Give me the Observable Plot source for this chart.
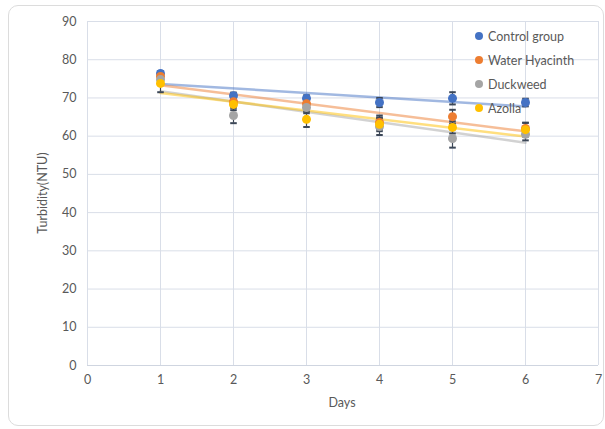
<!DOCTYPE html>
<html>
<head>
<meta charset="utf-8">
<script src="https://cdn.jsdelivr.net/npm/d3@7"></script>
<script src="https://cdn.jsdelivr.net/npm/@observablehq/plot@0.6"></script>
<style>
  html, body { margin: 0; padding: 0; background: #fff; }
  #wrap { position: relative; width: 605px; height: 429px; overflow: hidden; font-family: Lato, "Liberation Sans", sans-serif; color: #595959; }
  #card { position: absolute; left: 8px; top: 5px; width: 596px; height: 421px; border: 1px solid #dcdcdc; border-radius: 10px; box-sizing: border-box; }
  #chart { position: absolute; left: 0; top: 0; }
  .title { position: absolute; font-size: 12.5px; color: #595959; white-space: nowrap; }
  #ytitle { left: 42px; top: 193px; transform: translate(-50%, -50%) rotate(-90deg); }
  #xtitle { left: 342px; top: 402px; transform: translate(-50%, -50%); }
  #legend { position: absolute; left: 475px; top: 24px; }
  .li { display: flex; align-items: center; height: 24px; font-size: 12.5px; color: #595959; }
  .sw { width: 8px; height: 8px; border-radius: 50%; margin-right: 5px; }
</style>
</head>
<body>
<div id="wrap">
  <div id="card"></div>
  <div id="chart"></div>
  <div class="title" id="ytitle">Turbidity(NTU)</div>
  <div class="title" id="xtitle">Days</div>
  <div id="legend"></div>
</div>
<script>
const days = [1, 2, 3, 4, 5, 6];
const seriesNames = ["Control group", "Water Hyacinth", "Duckweed", "Azolla"];
const seriesColors = ["#4472c4", "#ed7d31", "#a5a5a5", "#ffc000"];

const controlValues   = [76.4, 70.6, 69.9, 68.8, 69.9, 68.8];
const hyacinthValues  = [75.6, 69.0, 68.5, 63.6, 65.1, 62.0];
const duckweedValues  = [74.8, 65.4, 67.5, 62.5, 59.4, 60.5];
const azollaValues    = [73.8, 68.3, 64.4, 63.1, 62.3, 61.7];

const controlErrors   = [0.6, 0.8, 0.8, 1.2, 1.6, 1.0];
const hyacinthErrors  = [0.8, 1.0, 1.2, 1.8, 1.8, 1.5];
const duckweedErrors  = [1.2, 2.0, 1.5, 2.2, 2.4, 1.6];
const azollaErrors    = [2.3, 1.5, 2.0, 1.8, 1.6, 1.8];

const xTicks = [0, 1, 2, 3, 4, 5, 6, 7];
const yTicks = [0, 10, 20, 30, 40, 50, 60, 70, 80, 90];

const valueSets = [controlValues, hyacinthValues, duckweedValues, azollaValues];
const errorSets = [controlErrors, hyacinthErrors, duckweedErrors, azollaErrors];

const data = [];
seriesNames.forEach((name, si) => {
  days.forEach((day, di) => {
    data.push({series: name, day, value: valueSets[si][di], err: errorSets[si][di]});
  });
});

const capHalf = 0.045;
const errColor = "#3c4757";

const chart = Plot.plot({
  width: 605,
  height: 429,
  marginLeft: 87,
  marginRight: 7,
  marginTop: 21,
  marginBottom: 64,
  style: {background: "transparent", fontFamily: "Lato, 'Liberation Sans', sans-serif", fontSize: "12.5px", color: "#595959"},
  x: {domain: [0, 7], ticks: xTicks, label: null},
  y: {domain: [0, 90], ticks: yTicks, label: null},
  color: {domain: seriesNames, range: seriesColors},
  marks: [
    Plot.gridX(xTicks, {stroke: "#d9dee8", strokeOpacity: 1, strokeWidth: 1}),
    Plot.gridY(yTicks, {stroke: "#d9dee8", strokeOpacity: 1, strokeWidth: 1}),
    Plot.ruleY([0], {stroke: "#cfd5e0", strokeWidth: 1}),
    Plot.axisX(xTicks, {tickSize: 0, tickPadding: 10, fill: "#595959", label: null}),
    Plot.axisY(yTicks, {tickSize: 0, tickPadding: 11, fill: "#595959", label: null}),
    Plot.linearRegressionY(data, {x: "day", y: "value", stroke: "series", ci: 0, strokeWidth: 2.5, strokeOpacity: 0.5}),
    Plot.ruleX(data, {x: "day", y1: d => d.value - d.err, y2: d => d.value + d.err, stroke: errColor, strokeWidth: 1.2}),
    Plot.link(data, {x1: d => d.day - capHalf, x2: d => d.day + capHalf, y1: d => d.value + d.err, y2: d => d.value + d.err, stroke: errColor, strokeWidth: 2}),
    Plot.link(data, {x1: d => d.day - capHalf, x2: d => d.day + capHalf, y1: d => d.value - d.err, y2: d => d.value - d.err, stroke: errColor, strokeWidth: 2}),
    Plot.dot(data, {x: "day", y: "value", fill: "series", r: 4.5, stroke: null})
  ]
});
document.getElementById("chart").appendChild(chart);

const legend = document.getElementById("legend");
seriesNames.forEach((name, i) => {
  const row = document.createElement("div");
  row.className = "li";
  const sw = document.createElement("span");
  sw.className = "sw";
  sw.style.background = seriesColors[i];
  const tx = document.createElement("span");
  tx.textContent = name;
  row.appendChild(sw);
  row.appendChild(tx);
  legend.appendChild(row);
});
</script>
</body>
</html>
